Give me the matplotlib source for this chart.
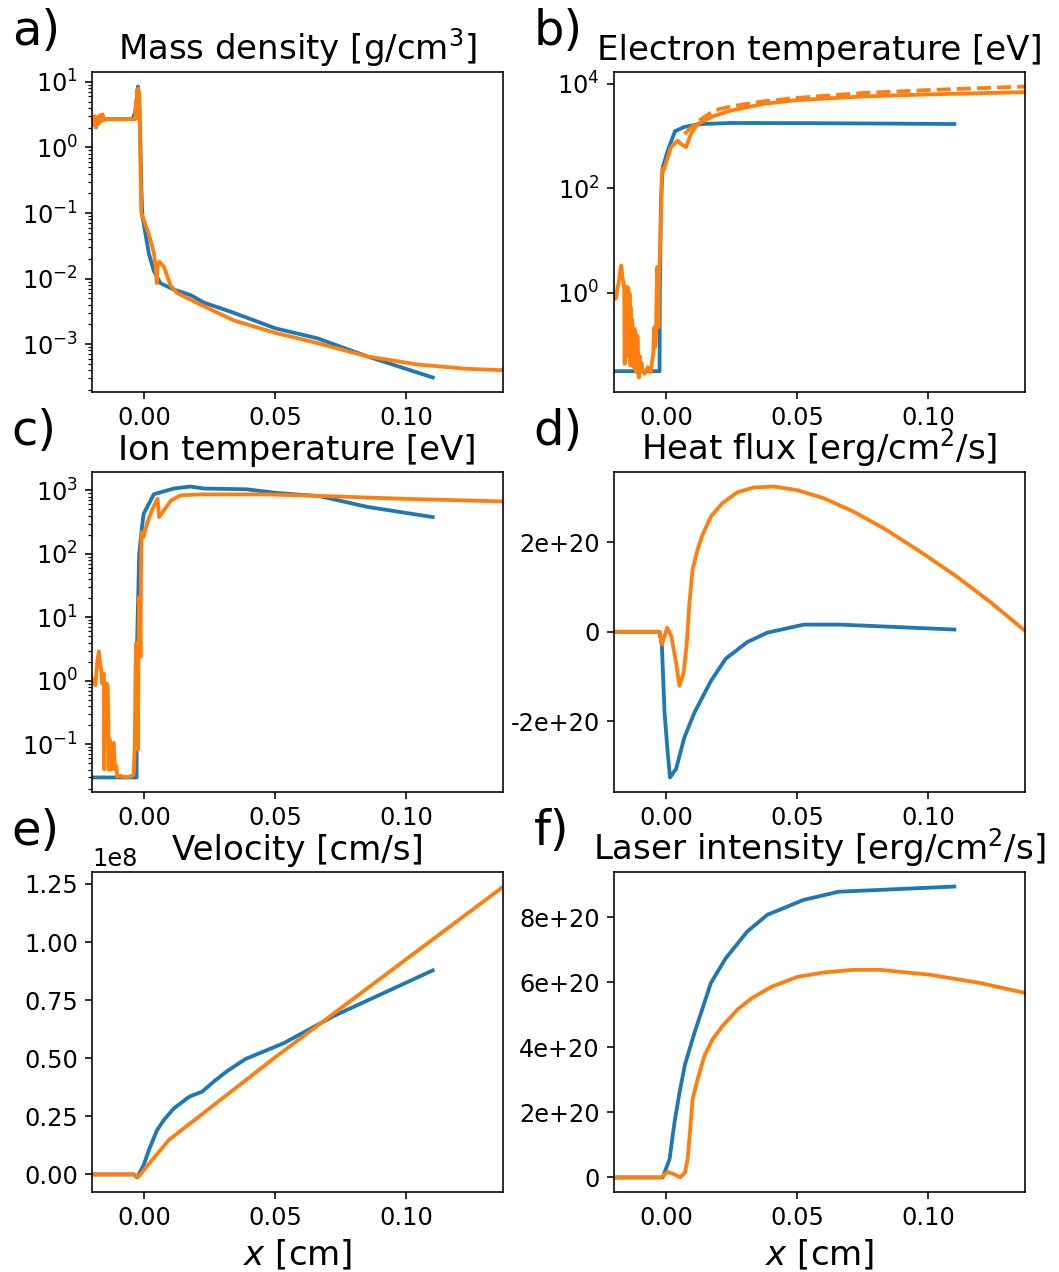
import numpy as np
import matplotlib
matplotlib.use("Agg")
import matplotlib.pyplot as plt
from matplotlib import ticker

# --- a) mass density [g/cm^3] ---
xa_1 = [-0.02, -0.0045, -0.0035, -0.0025, -0.0020, -0.0015, -0.0012, -0.0008, 0.0017,
        0.0036, 0.0061, 0.0112, 0.0176, 0.0227, 0.0341, 0.0500, 0.0659, 0.0850, 0.1100]
rho_1 = [2.7, 2.7, 3.5, 8.5, 6.0, 1.0, 0.25, 0.09, 0.024,
         0.013, 0.0085, 0.0068, 0.0056, 0.0043, 0.0030, 0.00174, 0.00123, 0.00065, 0.00031]

xa_2 = [-0.02, -0.0195, -0.0190, -0.0185, -0.0180, -0.0175, -0.0170, -0.0165, -0.0160,
        -0.0155, -0.0150, -0.0040, -0.0035, -0.0032, -0.0030, -0.0028, -0.0026, -0.0024,
        -0.0022, -0.0020, -0.0018, -0.0015, -0.0012, 0.0015, 0.0036, 0.0043, 0.0047,
        0.0050, 0.0057, 0.0075, 0.0099, 0.0125, 0.0214, 0.0341, 0.0500, 0.0659, 0.0850,
        0.1040, 0.1230, 0.1370]
rho_2 = [2.9, 2.2, 3.0, 2.0, 2.9, 2.3, 3.1, 2.5, 3.2,
         2.6, 2.7, 2.7, 2.7, 5.0, 2.8, 7.5, 4.0, 8.0,
         5.5, 7.0, 3.0, 0.5, 0.1, 0.05, 0.025, 0.015, 0.0085,
         0.016, 0.018, 0.015, 0.0079, 0.006, 0.004, 0.0023, 0.00148, 0.00104, 0.00065,
         0.00049, 0.00042, 0.0004]

# --- b) electron temperature [eV] ---
xb_1 = [-0.02, -0.0025, -0.0024, -0.0020, -0.0013, 0.0006, 0.0034, 0.0070, 0.0133,
        0.0247, 0.0500, 0.0800, 0.1100]
te_1 = [0.031, 0.031, 1.0, 50, 250, 520, 1240, 1500, 1700,
        1780, 1770, 1740, 1700]

xb_2 = [-0.0200, -0.0195, -0.0190, -0.0185, -0.0181, -0.0176, -0.0171, -0.0167, -0.0163,
        -0.0160, -0.0158, -0.0156, -0.0153, -0.0150, -0.0148, -0.0146, -0.0142, -0.0138,
        -0.0136, -0.0134, -0.0133, -0.0130, -0.0128, -0.0125, -0.0123, -0.0121, -0.0118,
        -0.0115, -0.0113, -0.0110, -0.0108, -0.0105, -0.0103, -0.0100, -0.0098, -0.0094,
        -0.0090, -0.0082, -0.0070, -0.0060, -0.0057, -0.0053, -0.0049, -0.0046, -0.0044,
        -0.0042, -0.0039, -0.0037, -0.0034, -0.0032, -0.0029, -0.0027, -0.0024, -0.0022,
        -0.0019, -0.0017, -0.0014, -0.0009, -0.0004, 0.0019, 0.0044, 0.0057, 0.0076,
        0.0095, 0.0120, 0.0184, 0.0247, 0.0373, 0.0500, 0.0753, 0.1006, 0.1370]
te_2 = [1.0, 0.75, 0.81, 1.3, 1.47, 2.5, 3.3, 2.0, 1.58,
        1.2, 0.043, 1.3, 1.26, 0.06, 1.2, 1.26, 1.0, 0.94,
        0.04, 0.5, 0.12, 0.3, 0.216, 0.04, 0.037, 0.2, 0.187,
        0.03, 0.032, 0.15, 0.12, 0.025, 0.0235, 0.06, 0.032, 0.045,
        0.032, 0.0276, 0.037, 0.030, 0.032, 0.05, 0.067, 0.2, 0.216,
        0.09, 0.12, 0.5, 3.06, 0.4, 0.216, 2.0, 4.75, 10,
        32, 150, 235, 220, 270, 615, 815, 700, 615,
        1100, 1700, 2450, 3090, 4150, 4900, 5750, 6300, 6950]

# dashed orange curve (only separates from the solid one ahead of the front)
xb_2d = [0.0070, 0.0120, 0.0184, 0.0247, 0.0373, 0.0500, 0.0753, 0.1006, 0.1370]
te_2d = [1100, 1900, 3100, 3700, 4650, 5400, 6700, 7650, 8900]

# --- c) ion temperature [eV] ---
xc_1 = [-0.02, -0.0030, -0.0028, -0.0020, -0.0010, -0.0003, 0.0036, 0.0112, 0.0176,
        0.0227, 0.0390, 0.0506, 0.0670, 0.0850, 0.1100]
ti_1 = [0.030, 0.030, 4.0, 100, 250, 430, 870, 1070, 1150,
        1070, 1040, 910, 810, 550, 380]

xc_2 = [-0.0200, -0.0193, -0.0187, -0.0180, -0.0174, -0.0170, -0.0165, -0.0162, -0.0158,
        -0.0155, -0.0153, -0.0151, -0.0146, -0.0143, -0.0140, -0.0138, -0.0136, -0.0133,
        -0.0130, -0.0127, -0.0123, -0.0120, -0.0117, -0.0113, -0.0110, -0.0107, -0.0104,
        -0.0093, -0.0070, -0.0053, -0.0045, -0.0041, -0.0039, -0.0037, -0.0034, -0.0031,
        -0.0028, -0.0025, -0.0023, -0.0020, -0.0017, -0.0015, -0.0013, -0.0011, -0.0003,
        0.0010, 0.0029, 0.0050, 0.0056, 0.0075, 0.0101, 0.0137, 0.0216, 0.0468, 0.0723,
        0.0977, 0.1370]
ti_2 = [1.1, 0.9, 0.86, 2.0, 2.9, 2.0, 1.48, 0.91, 1.2,
        1.3, 0.040, 0.9, 0.91, 0.9, 0.81, 0.3, 0.040, 0.12,
        0.105, 0.04, 0.045, 0.1, 0.105, 0.04, 0.040, 0.045, 0.031,
        0.032, 0.030, 0.031, 0.032, 0.034, 0.06, 0.083, 1.5, 3.9,
        0.3, 0.083, 2.0, 21, 10, 2.4, 50, 220, 187,
        300, 490, 740, 380, 490, 690, 835, 865, 865, 805,
        740, 670]

# --- d) heat flux [erg/cm^2/s] ---
xd_1 = [-0.02, -0.0025, -0.0016, -0.0006, 0.0006, 0.0015, 0.0038, 0.0070, 0.0108,
        0.0171, 0.0228, 0.0310, 0.0386, 0.0525, 0.0665, 0.1100]
q_1 = [0, 0, -0.32e20, -1.81e20, -2.70e20, -3.26e20, -3.07e20, -2.36e20, -1.81e20,
       -1.10e20, -0.60e20, -0.23e20, -0.02e20, 0.16e20, 0.16e20, 0.05e20]

xd_2 = [-0.02, -0.0025, -0.0016, 0.0004, 0.0020, 0.0038, 0.0051, 0.0067, 0.0078,
        0.0089, 0.0101, 0.0120, 0.0139, 0.0171, 0.0215, 0.0272, 0.0335, 0.0411,
        0.0500, 0.0601, 0.0715, 0.0829, 0.0968, 0.1108, 0.1234, 0.1370]
q_2 = [0, 0, -0.28e20, 0.09e20, -0.10e20, -0.69e20, -1.21e20, -0.91e20, -0.32e20,
       0.65e20, 1.39e20, 1.84e20, 2.17e20, 2.58e20, 2.88e20, 3.12e20, 3.23e20, 3.25e20,
       3.17e20, 2.99e20, 2.69e20, 2.32e20, 1.80e20, 1.24e20, 0.68e20, 0.02e20]

# --- e) velocity [cm/s] ---
xe_1 = [-0.02, -0.0040, -0.0028, -0.0003, 0.0017, 0.0048, 0.0074, 0.0112, 0.0172,
        0.0220, 0.0265, 0.0316, 0.0386, 0.0532, 0.0723, 0.1100]
v_1 = [0, 0, -0.013e8, 0.04e8, 0.105e8, 0.19e8, 0.234e8, 0.284e8, 0.335e8,
       0.356e8, 0.40e8, 0.445e8, 0.497e8, 0.565e8, 0.682e8, 0.878e8]

xe_2 = [-0.02, -0.0040, -0.0025, 0.0093, 0.0500, 0.1370]
v_2 = [0, 0, -0.012e8, 0.148e8, 0.505e8, 1.239e8]

# --- f) laser intensity [erg/cm^2/s] ---
xf_1 = [-0.02, -0.0013, 0.0013, 0.0032, 0.0051, 0.0072, 0.0108, 0.0171, 0.0228,
        0.0310, 0.0386, 0.0525, 0.0658, 0.0880, 0.1100]
i_1 = [0, 0, 0.56e20, 1.69e20, 2.6e20, 3.47e20, 4.44e20, 5.98e20, 6.74e20,
       7.56e20, 8.07e20, 8.53e20, 8.78e20, 8.86e20, 8.94e20]

xf_2 = [-0.02, -0.0020, 0.0006, 0.0030, 0.0054, 0.0072, 0.0082, 0.0092, 0.0101,
        0.0120, 0.0146, 0.0177, 0.0215, 0.0272, 0.0329, 0.0405, 0.0500, 0.0601,
        0.0715, 0.0816, 0.1006, 0.1196, 0.1370]
i_2 = [0, 0, 0.17e20, 0.10e20, 0.0, 0.15e20, 0.56e20, 1.48e20, 2.4e20,
       3.01e20, 3.73e20, 4.24e20, 4.65e20, 5.16e20, 5.52e20, 5.87e20, 6.16e20, 6.30e20,
       6.38e20, 6.38e20, 6.23e20, 5.98e20, 5.67e20]

plt.rcParams["font.size"] = 12
plt.rcParams["lines.linewidth"] = 1.9

fig, axes = plt.subplots(3, 2, figsize=(1059 / 144, 1272 / 144), dpi=144)
fig.subplots_adjust(left=0.0869, right=0.968, top=0.9434, bottom=0.0629,
                    wspace=0.268, hspace=0.25)
ax_a, ax_b = axes[0]
ax_c, ax_d = axes[1]
ax_e, ax_f = axes[2]

ax_a.semilogy(xa_1, rho_1)
ax_a.semilogy(xa_2, rho_2)
ax_a.set_title("Mass density [g/cm$^3$]", fontsize=17)

ax_b.semilogy(xb_1, te_1)
ax_b.semilogy(xb_2, te_2, color="C1")
ax_b.semilogy(xb_2d, te_2d, color="C1", linestyle="--")
ax_b.set_title("Electron temperature [eV]", fontsize=17)
# labels every second decade, no minor ticks
ax_b.yaxis.set_major_locator(ticker.LogLocator(base=100))
ax_b.yaxis.set_minor_locator(ticker.NullLocator())

ax_c.semilogy(xc_1, ti_1)
ax_c.semilogy(xc_2, ti_2)
ax_c.set_title("Ion temperature [eV]", fontsize=17)

ax_d.plot(xd_1, q_1)
ax_d.plot(xd_2, q_2)
ax_d.set_title("Heat flux [erg/cm$^2$/s]", fontsize=17)
ax_d.yaxis.set_major_formatter(ticker.FormatStrFormatter("%g"))

ax_e.plot(xe_1, v_1)
ax_e.plot(xe_2, v_2)
ax_e.set_title("Velocity [cm/s]", fontsize=17)

ax_f.plot(xf_1, i_1)
ax_f.plot(xf_2, i_2)
ax_f.set_title("Laser intensity [erg/cm$^2$/s]", fontsize=17)
ax_f.yaxis.set_major_formatter(ticker.FormatStrFormatter("%g"))

for ax, lab in zip(axes.flat, ["a)", "b)", "c)", "d)", "e)", "f)"]):
    ax.set_xlim(-0.02, 0.137)
    ax.text(-0.195, 1.084, lab, transform=ax.transAxes, fontsize=24)

for ax in (ax_e, ax_f):
    ax.set_xlabel("$x$ [cm]", fontsize=17)

plt.savefig("out.png", dpi=144)
plt.close()
